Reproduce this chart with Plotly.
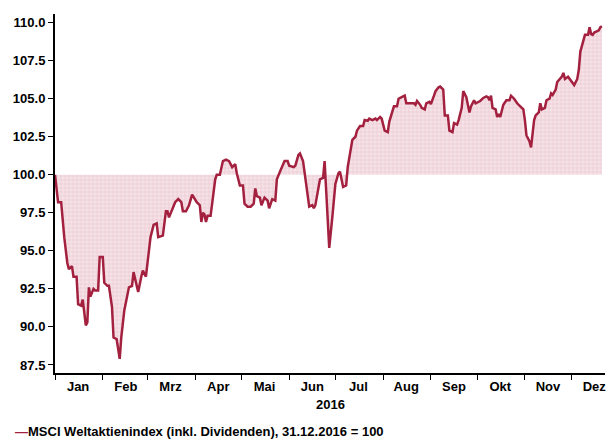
import plotly.graph_objects as go

dates = [
    "2016-01-01", "2016-01-03", "2016-01-05", "2016-01-07", "2016-01-09", "2016-01-10",
    "2016-01-12", "2016-01-13", "2016-01-15", "2016-01-16", "2016-01-18", "2016-01-19",
    "2016-01-21", "2016-01-22", "2016-01-23", "2016-01-24", "2016-01-26", "2016-01-27",
    "2016-01-29", "2016-01-30", "2016-02-01", "2016-02-02", "2016-02-04", "2016-02-05",
    "2016-02-07", "2016-02-08", "2016-02-10", "2016-02-12", "2016-02-13", "2016-02-15",
    "2016-02-18", "2016-02-20", "2016-02-21", "2016-02-23", "2016-02-24", "2016-02-26",
    "2016-02-27", "2016-02-29", "2016-03-02", "2016-03-03", "2016-03-05", "2016-03-07",
    "2016-03-08", "2016-03-10", "2016-03-11", "2016-03-13", "2016-03-14", "2016-03-15",
    "2016-03-17", "2016-03-19", "2016-03-21", "2016-03-23", "2016-03-24", "2016-03-26",
    "2016-03-28", "2016-03-30", "2016-04-02", "2016-04-04", "2016-04-05", "2016-04-06",
    "2016-04-07", "2016-04-08", "2016-04-09", "2016-04-11", "2016-04-12", "2016-04-14",
    "2016-04-15", "2016-04-17", "2016-04-19", "2016-04-21", "2016-04-23", "2016-04-25",
    "2016-04-27", "2016-04-28", "2016-04-30", "2016-05-02", "2016-05-03", "2016-05-05",
    "2016-05-07", "2016-05-09", "2016-05-10", "2016-05-11", "2016-05-13", "2016-05-14",
    "2016-05-16", "2016-05-18", "2016-05-19", "2016-05-21", "2016-05-23", "2016-05-24",
    "2016-05-26", "2016-05-27", "2016-05-29", "2016-05-31", "2016-06-01", "2016-06-04",
    "2016-06-05", "2016-06-07", "2016-06-08", "2016-06-10", "2016-06-12", "2016-06-14",
    "2016-06-16", "2016-06-17", "2016-06-18", "2016-06-20", "2016-06-21", "2016-06-23",
    "2016-06-24", "2016-06-25", "2016-06-27", "2016-06-29", "2016-07-01", "2016-07-03",
    "2016-07-04", "2016-07-06", "2016-07-08", "2016-07-09", "2016-07-11", "2016-07-12",
    "2016-07-14", "2016-07-15", "2016-07-17", "2016-07-19", "2016-07-20", "2016-07-22",
    "2016-07-23", "2016-07-25", "2016-07-27", "2016-07-28", "2016-07-30", "2016-07-31",
    "2016-08-02", "2016-08-04", "2016-08-05", "2016-08-07", "2016-08-08", "2016-08-10",
    "2016-08-11", "2016-08-13", "2016-08-15", "2016-08-16", "2016-08-17", "2016-08-19",
    "2016-08-21", "2016-08-22", "2016-08-23", "2016-08-25", "2016-08-26", "2016-08-28",
    "2016-08-29", "2016-08-31", "2016-09-01", "2016-09-03", "2016-09-04", "2016-09-06",
    "2016-09-07", "2016-09-09", "2016-09-10", "2016-09-12", "2016-09-13", "2016-09-15",
    "2016-09-16", "2016-09-18", "2016-09-19", "2016-09-21", "2016-09-22", "2016-09-24",
    "2016-09-26", "2016-09-27", "2016-09-29", "2016-09-30", "2016-10-02", "2016-10-03",
    "2016-10-05", "2016-10-07", "2016-10-08", "2016-10-09", "2016-10-10", "2016-10-11",
    "2016-10-13", "2016-10-14", "2016-10-15", "2016-10-16", "2016-10-18", "2016-10-20",
    "2016-10-22", "2016-10-23", "2016-10-25", "2016-10-27", "2016-10-29", "2016-10-31",
    "2016-11-01", "2016-11-02", "2016-11-04", "2016-11-05", "2016-11-06", "2016-11-07",
    "2016-11-08", "2016-11-10", "2016-11-11", "2016-11-12", "2016-11-14", "2016-11-15",
    "2016-11-17", "2016-11-18", "2016-11-19", "2016-11-21", "2016-11-22", "2016-11-24",
    "2016-11-25", "2016-11-26", "2016-11-27", "2016-11-29", "2016-11-30", "2016-12-02",
    "2016-12-03", "2016-12-05", "2016-12-06", "2016-12-07", "2016-12-09", "2016-12-10",
    "2016-12-12", "2016-12-13", "2016-12-14", "2016-12-15", "2016-12-16", "2016-12-17",
    "2016-12-19", "2016-12-20", "2016-12-21",
]

msci = [
    100.0, 98.2, 98.2, 95.9, 94.2, 93.8,
    94.0, 93.3, 93.3, 91.5, 91.4, 91.8,
    90.1, 90.3, 92.6, 92.0, 92.5, 92.4,
    92.4, 94.6, 94.6, 92.9, 92.7, 92.7,
    91.3, 89.3, 89.2, 87.9, 89.3, 91.1,
    92.6, 92.7, 93.6, 92.7, 92.3, 93.3,
    93.7, 93.3, 95.3, 95.9, 96.7, 96.8,
    95.9, 96.0, 96.0, 97.6, 97.6, 97.2,
    97.7, 98.2, 98.4, 98.2, 97.6, 97.6,
    98.0, 98.7, 98.2, 98.0, 96.9, 97.5,
    97.4, 96.9, 97.3, 97.3, 98.1, 99.7,
    100.0, 100.0, 100.9, 101.0, 100.9, 100.5,
    100.7, 100.1, 99.3, 99.3, 98.1, 97.9,
    97.9, 98.1, 99.1, 98.6, 98.5, 98.0,
    98.5, 98.3, 97.8, 98.4, 98.3, 99.7,
    100.2, 100.4, 100.9, 100.9, 100.6, 100.5,
    100.6, 101.3, 101.4, 100.9, 99.2, 97.9,
    98.0, 97.8, 98.0, 99.3, 99.7, 99.8,
    100.9, 99.0, 95.2, 97.2, 99.4, 100.1,
    100.2, 99.2, 99.3, 100.5, 101.7, 102.3,
    102.5, 102.9, 103.2, 103.2, 103.6, 103.55,
    103.7, 103.6, 103.7, 103.6, 103.8, 103.7,
    102.9, 102.8, 103.5, 104.1, 104.5, 104.5,
    105.0, 105.1, 105.2, 104.7, 104.7, 104.7,
    104.7, 104.6, 104.85, 104.6, 104.4, 104.3,
    104.7, 104.8, 104.65, 105.2, 105.5, 105.75,
    105.8, 105.6, 103.9, 103.9, 102.9, 102.8,
    103.4, 103.3, 103.6, 104.4, 105.5, 105.1,
    104.1, 104.5, 104.9, 104.7, 104.8, 104.85,
    105.05, 105.15, 105.1, 104.9, 105.2, 104.4,
    104.3, 103.8, 104.0, 103.8, 104.6, 104.9,
    104.9, 105.2, 105.0, 104.7, 104.5, 104.3,
    103.6, 102.6, 102.2, 101.8, 102.7, 103.6,
    103.9, 104.1, 104.7, 104.3, 104.4, 104.9,
    105.0, 105.35, 105.25, 105.6, 106.1, 106.3,
    106.45, 106.7, 106.3, 106.45, 106.3, 106.0,
    105.9, 106.3, 106.9, 108.1, 108.75, 109.2,
    109.2, 109.7, 109.25, 109.2, 109.35, 109.4,
    109.5, 109.7, 109.75,
]

BASE = 100.0
baseline = [BASE] * len(dates)

month_labels = ["Jan", "Feb", "Mrz", "Apr", "Mai", "Jun",
                "Jul", "Aug", "Sep", "Okt", "Nov", "Dez"]
month_starts = ["2016-%02d-01" % m for m in range(1, 13)]
month_mids = ["2016-%02d-16" % m for m in range(1, 13)]
y_ticks = [87.5, 90.0, 92.5, 95.0, 97.5, 100.0, 102.5, 105.0, 107.5, 110.0]

LINE = "#a3203f"
FONT = "Liberation Sans, Arial, sans-serif"

fig = go.Figure()
fig.add_trace(go.Scatter(
    x=dates, y=baseline, mode="lines",
    line=dict(width=0, color="rgba(0,0,0,0)"),
    hoverinfo="skip", showlegend=False,
))
fig.add_trace(go.Scatter(
    x=dates, y=msci, mode="lines",
    line=dict(color=LINE, width=2.5),
    fill="tonexty",
    fillcolor="#f3dce2",
    fillpattern=dict(shape="+", fgcolor="#e3aebc", bgcolor="#f5e2e7",
                     size=4, solidity=0.3),
    name="MSCI Weltaktienindex (inkl. Dividenden), 31.12.2016 = 100",
    showlegend=False,
))

fig.update_layout(
    width=608, height=439,
    margin=dict(l=55, r=3, t=14, b=66),
    paper_bgcolor="white", plot_bgcolor="white",
    font=dict(family=FONT, size=13, color="black"),
    showlegend=False,
    xaxis=dict(
        type="date",
        range=["2016-01-01", "2016-12-23"],
        tickvals=month_mids, ticktext=["<b>%s</b>" % t for t in month_labels],
        ticks="", showgrid=False, zeroline=False,
        showline=True, linecolor="black", linewidth=2,
        minor=dict(tickvals=month_starts, ticks="outside", ticklen=5,
                   tickcolor="black", tickwidth=1, showgrid=False),
        tickfont=dict(size=13),
    ),
    yaxis=dict(
        range=[86.97, 110.57],
        tickvals=y_ticks, ticktext=["<b>%.1f</b>" % v for v in y_ticks],
        ticks="outside", ticklen=5, tickcolor="black", tickwidth=1,
        showgrid=False, zeroline=False,
        showline=True, linecolor="black", linewidth=2,
        tickfont=dict(size=13),
    ),
    annotations=[
        dict(text="<b>2016</b>", xref="paper", yref="paper",
             x=0.5, y=-0.089, xanchor="center", yanchor="middle",
             showarrow=False, font=dict(size=13)),
        dict(text="<span style='color:%s'><b>—</b></span><b>MSCI Weltaktienindex (inkl. Dividenden), 31.12.2016 = 100</b>" % LINE,
             xref="paper", yref="paper",
             x=-0.076, y=-0.164, xanchor="left", yanchor="middle",
             showarrow=False, font=dict(size=13)),
    ],
)

fig.write_html(
    "out.html",
    config={"displayModeBar": False},
    post_script="document.body.style.margin='0';document.body.style.overflow='hidden';",
)
